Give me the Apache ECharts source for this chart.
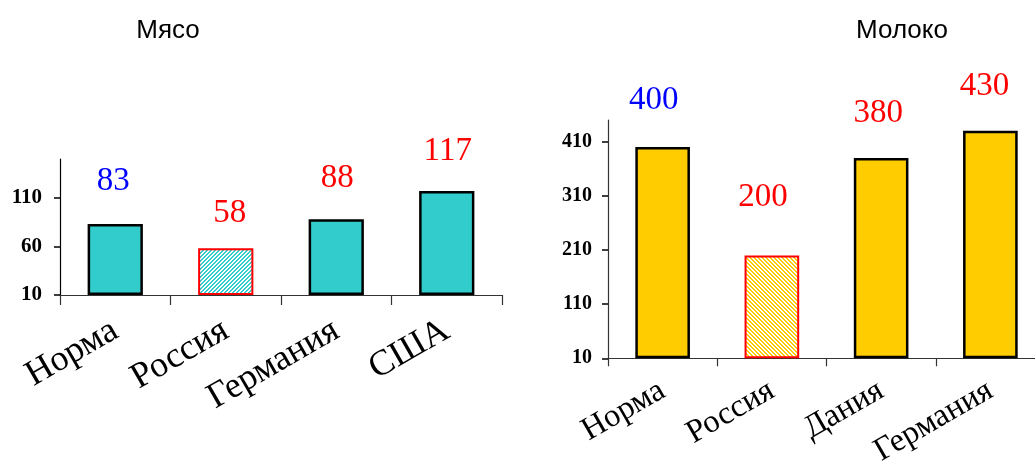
<!DOCTYPE html>
<html><head><meta charset="utf-8">
<script src="https://cdn.jsdelivr.net/npm/echarts@6/dist/echarts.min.js"></script>
<style>html,body{margin:0;padding:0;background:#fff}#c{width:1035px;height:461px}</style>
</head><body><div id="c"></div>
<script>
// ---- data ----
const meatTitle = 'Мясо';
const milkTitle = 'Молоко';
const meatCategories = ['Норма', 'Россия', 'Германия', 'США'];
const meatValues = [83, 58, 88, 117];
const milkCategories = ['Норма', 'Россия', 'Дания', 'Германия'];
const milkValues = [400, 200, 380, 430];
const meatTicks = [10, 60, 110];
const milkTicks = [10, 110, 210, 310, 410];

// ---- style (kept separate from data) ----
const meatLabelDist = [26, 19, 24, 23];
const meatLabelDx = [-2, 4, 1, 1];
const milkLabelDist = [30, 42, 28, 28];
const milkLabelDx = [-9, -9, -3, -6];
const labelColors = ['#0000FF', '#FF0000', '#FF0000', '#FF0000'];

function stripes(color, dir) {
  const n = 4;
  const c = document.createElement('canvas');
  c.width = n; c.height = n;
  const ctx = c.getContext('2d');
  ctx.fillStyle = '#ffffff';
  ctx.fillRect(0, 0, n, n);
  ctx.fillStyle = color;
  for (let x = 0; x < n; x++) for (let y = 0; y < n; y++) {
    const k = dir === '/' ? (x + y) % n : ((x - y) % n + n) % n;
    if (k < 2) ctx.fillRect(x, y, 1, 1);
  }
  return { image: c, repeat: 'repeat' };
}

function buildData(values, base, hatch, dist, dx) {
  return values.map((v, i) => ({
    value: v,
    itemStyle: i === 1
      ? { color: hatch, borderColor: '#FF0000', borderWidth: 2 }
      : { color: base, borderColor: '#000000', borderWidth: 2.5 },
    label: { distance: dist[i], offset: [dx[i], 0], color: labelColors[i] }
  }));
}

const chart = echarts.init(document.getElementById('c'));
const serif = '"Liberation Serif", "Times New Roman", serif';
const sans = '"Liberation Sans", Arial, sans-serif';

chart.setOption({
  animation: false,
  backgroundColor: '#ffffff',
  title: [
    { text: meatTitle, left: 163, top: 13, textAlign: 'center',
      textStyle: { fontFamily: sans, fontSize: 26, fontWeight: 'normal', color: '#000' } },
    { text: milkTitle, left: 897, top: 13, textAlign: 'center',
      textStyle: { fontFamily: sans, fontSize: 26, fontWeight: 'normal', color: '#000' } }
  ],
  grid: [
    { left: 60, top: 159, width: 442, height: 136, outerBoundsMode: 'none', containLabel: false },
    { left: 608, top: 120, width: 437, height: 238.3, outerBoundsMode: 'none', containLabel: false }
  ],
  xAxis: [0, 1].map(i => ({
    type: 'category', gridIndex: i,
    data: i === 0 ? meatCategories : milkCategories,
    axisLine: { show: true, lineStyle: { color: '#333', width: 1.2 } },
    axisTick: { show: true, interval: 0, length: i === 0 ? 10 : 8, lineStyle: { color: '#333', width: 1.2 } },
    axisLabel: { rotate: 30, margin: i === 0 ? 33 : 30, color: '#000', fontFamily: serif,
      fontSize: i === 0 ? 36 : 32.5, interval: 0 }
  })),
  yAxis: [0, 1].map(i => ({
    type: 'value', gridIndex: i,
    min: 10, max: i === 0 ? 150 : 450, interval: i === 0 ? 50 : 100,
    startValue: 10,
    splitLine: { show: false },
    axisLine: { show: true, lineStyle: { color: i === 0 ? '#000' : '#333', width: 1.2 } },
    axisTick: { show: true, inside: false, length: 6, customValues: i === 0 ? meatTicks : milkTicks,
      lineStyle: { color: '#000', width: 1.5 } },
    axisLabel: { customValues: i === 0 ? meatTicks : milkTicks, margin: i === 0 ? 18 : 16,
      color: '#000', fontFamily: serif, fontWeight: 'bold', fontSize: i === 0 ? 21 : 20 }
  })),
  series: [
    { type: 'bar', xAxisIndex: 0, yAxisIndex: 0, barWidth: '50%',
      data: buildData(meatValues, '#33CCCC', stripes('#33CCCC', '/'), meatLabelDist, meatLabelDx),
      label: { show: true, position: 'top', fontFamily: serif, fontSize: 33 } },
    { type: 'bar', xAxisIndex: 1, yAxisIndex: 1, barWidth: '50%',
      data: buildData(milkValues, '#FFCC00', stripes('#FFCC00', '\\'), milkLabelDist, milkLabelDx),
      label: { show: true, position: 'top', fontFamily: serif, fontSize: 33 } }
  ]
});
</script></body></html>
